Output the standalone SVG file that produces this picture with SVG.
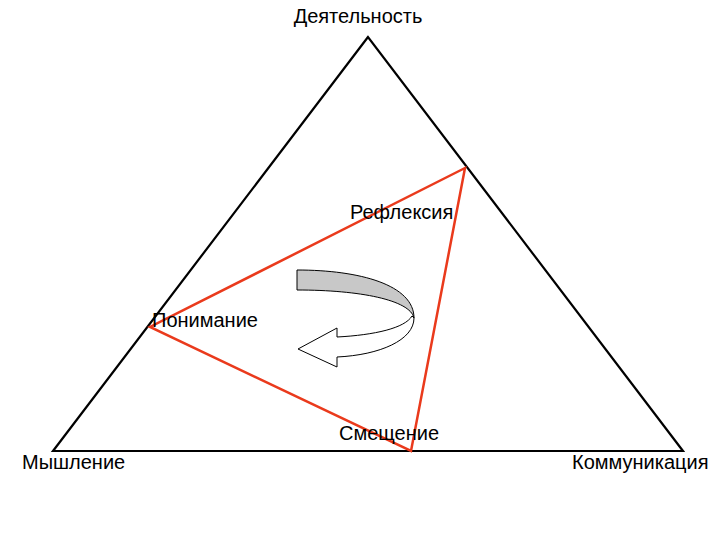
<svg xmlns="http://www.w3.org/2000/svg" width="720" height="540" viewBox="0 0 720 540">
<style>
text{font-family:"Liberation Sans",Arial,sans-serif;font-size:20px;fill:#000}
.big{fill:none;stroke:#000;stroke-width:2.2;stroke-linejoin:miter}
.red{fill:none;stroke:#ea3a1c;stroke-width:2.5;stroke-linejoin:miter}
</style>
<rect width="720" height="540" fill="#fff"/>
<g id="outer-triangle"><polygon class="big" points="368,37 53,451 683,451"/></g>
<g id="inner-triangle"><polygon class="red" points="465,168 150,327 411,451"/></g>
<g id="curved-arrow">
<path d="M297,270 C360,270 414,285 414,318 C410,300 360,290 297,290 Z" fill="#c8c8c8" stroke="#000" stroke-width="1"/>
<path d="M414,318 C414,340 380,355 337,357 L337,367 L298,349 L337,328 L337,337 C375,335 405,328 412,316 Z" fill="#fff" stroke="#000" stroke-width="1"/>
</g>
<g id="node-activity"><text x="358" y="23" text-anchor="middle">Деятельность</text></g>
<g id="node-thinking"><text x="22" y="469">Мышление</text></g>
<g id="node-communication"><text x="572" y="469">Коммуникация</text></g>
<g id="node-reflexion"><text x="350" y="219">Рефлексия</text></g>
<g id="node-understanding"><text x="152" y="327">Понимание</text></g>
<g id="node-shift"><text x="339" y="440">Смещение</text></g>
</svg>
